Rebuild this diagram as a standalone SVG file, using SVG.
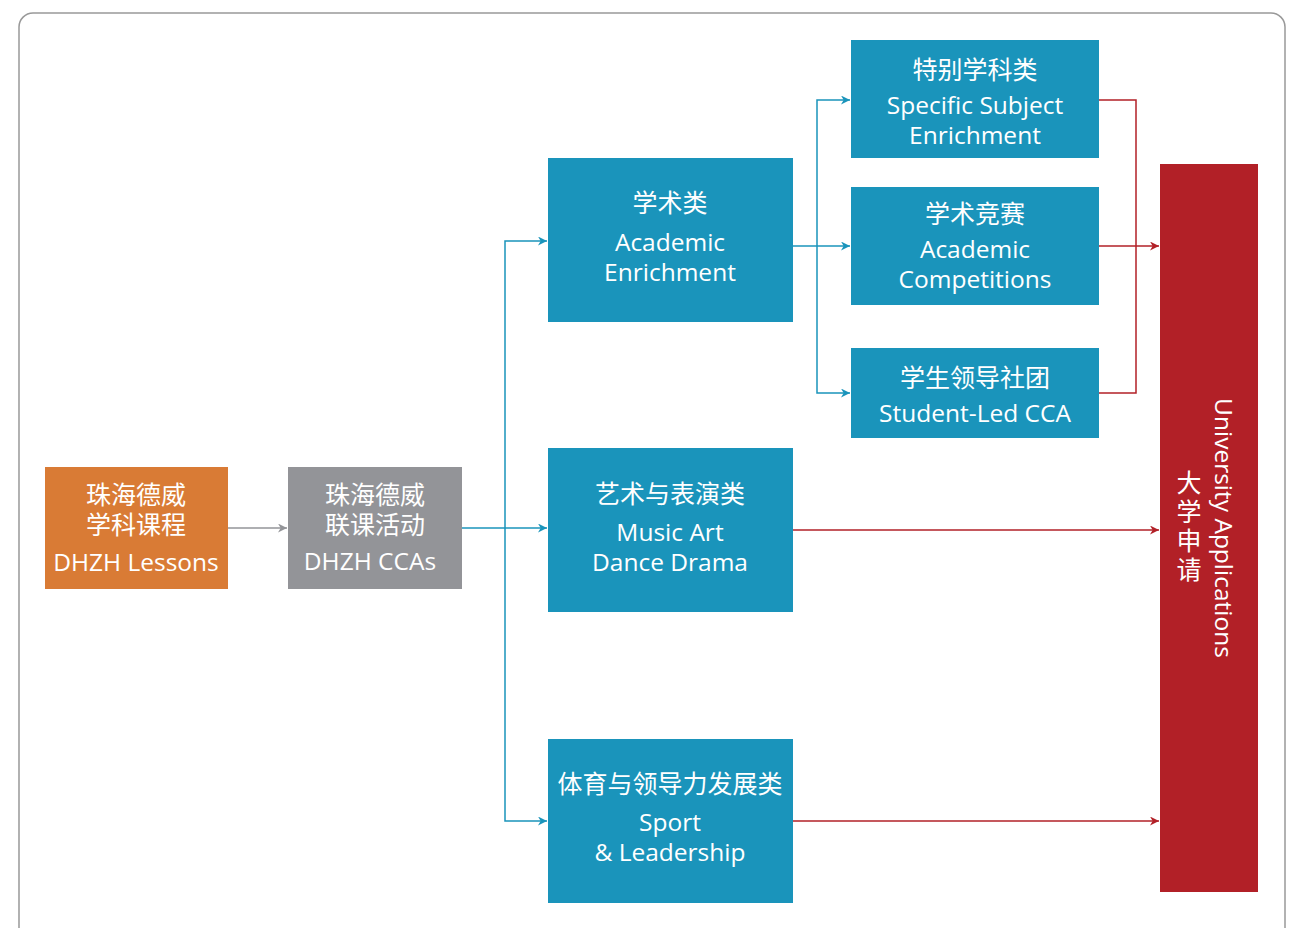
<svg xmlns="http://www.w3.org/2000/svg" width="1303" height="928" viewBox="0 0 1303 928">
<style>
.t{font-family:"Open Sans","Noto Sans CJK SC",sans-serif;font-size:24.5px;fill:#ffffff;text-anchor:middle}
.cn{font-family:"Noto Sans CJK SC",sans-serif;font-size:25px;fill:#ffffff;text-anchor:middle}
.b{fill:none;stroke:#1A94BB;stroke-width:1.5}
.r{fill:none;stroke:#B22027;stroke-width:1.5}
.g{fill:none;stroke:#939498;stroke-width:1.5}
</style>
<defs>
<marker id="ab" viewBox="0 0 10 10" refX="10" refY="5" markerWidth="9" markerHeight="9" markerUnits="userSpaceOnUse" orient="auto"><path d="M0,0 L10,5 L0,10 L3,5 Z" fill="#1A94BB"/></marker>
<marker id="ar" viewBox="0 0 10 10" refX="10" refY="5" markerWidth="9" markerHeight="9" markerUnits="userSpaceOnUse" orient="auto"><path d="M0,0 L10,5 L0,10 L3,5 Z" fill="#B22027"/></marker>
<marker id="ag" viewBox="0 0 10 10" refX="10" refY="5" markerWidth="9" markerHeight="9" markerUnits="userSpaceOnUse" orient="auto"><path d="M0,0 L10,5 L0,10 L3,5 Z" fill="#939498"/></marker>
</defs>
<rect x="19" y="13" width="1266" height="930" rx="14" fill="#fff" stroke="#999" stroke-width="1.5"/>
<g id="connectors">
<line class="g" x1="228" y1="528" x2="287" y2="528" marker-end="url(#ag)"/>
<line class="b" x1="462" y1="528" x2="547" y2="528" marker-end="url(#ab)"/>
<path class="b" d="M505,528 V241 H547" marker-end="url(#ab)"/>
<path class="b" d="M505,528 V821 H547" marker-end="url(#ab)"/>
<line class="b" x1="793" y1="246" x2="850" y2="246" marker-end="url(#ab)"/>
<path class="b" d="M817,246 V100 H850" marker-end="url(#ab)"/>
<path class="b" d="M817,246 V393 H850" marker-end="url(#ab)"/>
<path class="r" d="M1099,100 H1136 V393 H1099"/>
<line class="r" x1="1099" y1="246" x2="1159" y2="246" marker-end="url(#ar)"/>
<line class="r" x1="793" y1="530" x2="1159" y2="530" marker-end="url(#ar)"/>
<line class="r" x1="793" y1="821" x2="1159" y2="821" marker-end="url(#ar)"/>
</g>
<g id="lessons">
<rect x="45" y="467" width="183" height="122" fill="#D97B35"/>
<text class="cn" x="136" y="504"><tspan x="136" y="504">珠海德威</tspan><tspan x="136" y="534">学科课程</tspan></text>
<text class="t" x="136" y="571">DHZH Lessons</text>
</g>
<g id="ccas">
<rect x="288" y="467" width="174" height="122" fill="#939498"/>
<text class="cn" x="375" y="504"><tspan x="375" y="504">珠海德威</tspan><tspan x="375" y="534">联课活动</tspan></text>
<text class="t" x="370" y="570">DHZH CCAs</text>
</g>
<g id="academic">
<rect x="548" y="158" width="245" height="164" fill="#1A94BB"/>
<text class="cn" x="670" y="212">学术类</text>
<text class="t" x="670" y="251">Academic</text>
<text class="t" x="670" y="281">Enrichment</text>
</g>
<g id="music">
<rect x="548" y="448" width="245" height="164" fill="#1A94BB"/>
<text class="cn" x="670" y="503">艺术与表演类</text>
<text class="t" x="670" y="541">Music Art</text>
<text class="t" x="670" y="571">Dance Drama</text>
</g>
<g id="sport">
<rect x="548" y="739" width="245" height="164" fill="#1A94BB"/>
<text class="cn" x="670" y="793">体育与领导力发展类</text>
<text class="t" x="670" y="831">Sport</text>
<text class="t" x="670" y="861">&amp; Leadership</text>
</g>
<g id="specific">
<rect x="851" y="40" width="248" height="118" fill="#1A94BB"/>
<text class="cn" x="975" y="79">特别学科类</text>
<text class="t" x="975" y="114">Specific Subject</text>
<text class="t" x="975" y="144">Enrichment</text>
</g>
<g id="competitions">
<rect x="851" y="187" width="248" height="118" fill="#1A94BB"/>
<text class="cn" x="975" y="223">学术竞赛</text>
<text class="t" x="975" y="258">Academic</text>
<text class="t" x="975" y="288">Competitions</text>
</g>
<g id="studentled">
<rect x="851" y="348" width="248" height="90" fill="#1A94BB"/>
<text class="cn" x="975" y="387">学生领导社团</text>
<text class="t" x="975" y="422">Student-Led CCA</text>
</g>
<g id="university">
<rect x="1160" y="164" width="98" height="728" fill="#B22027"/>
<text class="t" transform="translate(1215,528) rotate(90)" x="0" y="0">University Applications</text>
<text class="cn" x="1189" y="528" style="writing-mode:vertical-rl;text-anchor:middle;letter-spacing:4px">大学申请</text>
</g>
</svg>
